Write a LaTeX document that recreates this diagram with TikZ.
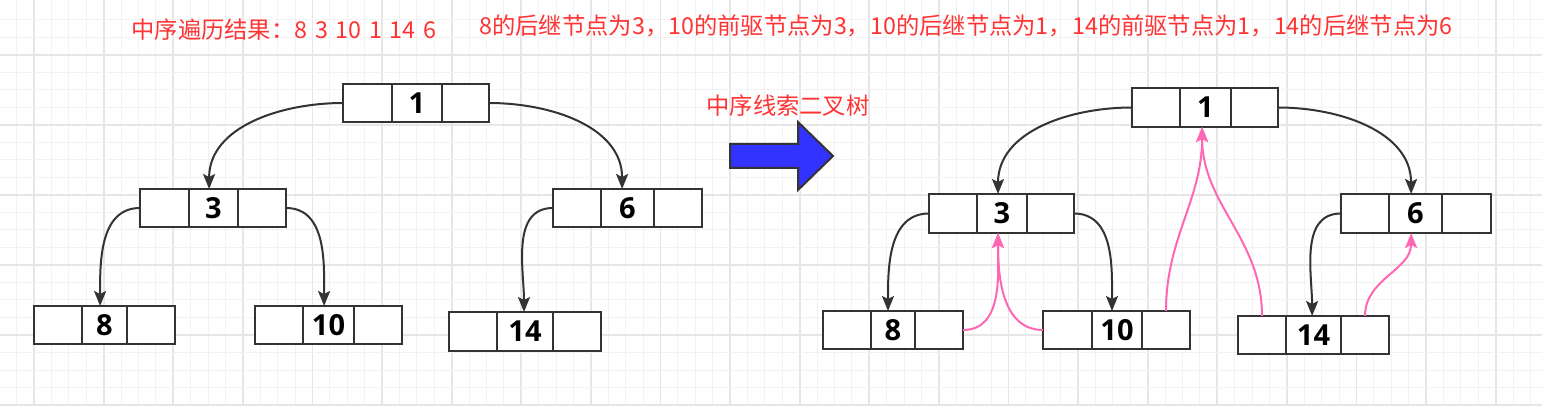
\documentclass[tikz,border=0pt]{standalone}
\usepackage{fontspec}
\newfontfamily\cjk{Noto Sans CJK SC}
\newfontfamily\numf{Open Sans}
\usetikzlibrary{arrows.meta}
\definecolor{lc}{HTML}{333333}
\definecolor{rd}{HTML}{FF3333}
\definecolor{pk}{HTML}{FF66B3}
\definecolor{bl}{HTML}{3333FF}
\definecolor{gthin}{HTML}{F2F2F2}
\definecolor{gthick}{HTML}{E6E6E6}
\newcommand\lblfont{\numf\bfseries\fontsize{14.5}{14.5}\selectfont}
\newcommand\gapsp{\hspace{0.33em}}
\newcommand\tn[8]{%
\node[cell, minimum width={(#3-#2)*0.5pt}, minimum height={(#7-#6)*0.5pt}] (#1l) at ({(#2+#3)/2},{(#6+#7)/2}) {};
\node[cell, minimum width={(#4-#3)*0.5pt}, minimum height={(#7-#6)*0.5pt}, font=\lblfont] (#1m) at ({(#3+#4)/2},{(#6+#7)/2}) {#8};
\node[cell, minimum width={(#5-#4)*0.5pt}, minimum height={(#7-#6)*0.5pt}] (#1r) at ({(#4+#5)/2},{(#6+#7)/2}) {};}
\tikzset{
  cell/.style={draw=lc, line width=1pt, inner sep=0pt, outer sep=0pt, fill=white},
  link/.style={draw=lc, line width=1pt, -{Stealth[length=7.5pt,width=6pt,inset=1.5pt]}},
  thread/.style={draw=pk, line width=1pt, -{Stealth[length=7.5pt,width=6pt,inset=1.5pt]}},
  redtxt/.style={text=rd, font=\cjk\fontsize{11.65}{13}\selectfont, inner sep=0pt, anchor=west}
}
\begin{document}
\begin{tikzpicture}[x=0.5pt,y=-0.5pt]
\useasboundingbox (0,0) rectangle (1542,406);
\fill[white] (0,0) rectangle (1542,406);
\foreach \i in {0,...,87}{
  \pgfmathtruncatemacro\m{mod(\i,4)}
  \ifnum\m=1
    \draw[gthick,line width=0.9pt] ({16.7+17.4*\i},0) -- ++(0,406);
  \else
    \draw[gthin,line width=0.5pt] ({16.7+17.4*\i},0) -- ++(0,406);
  \fi}
\foreach \i in {0,...,22}{
  \pgfmathtruncatemacro\m{mod(\i,4)}
  \ifnum\m=2
    \draw[gthick,line width=0.9pt] (0,{20+17.5*\i}) -- ++(1542,0);
  \else
    \draw[gthin,line width=0.5pt] (0,{20+17.5*\i}) -- ++(1542,0);
  \fi}

% texts
\node[redtxt] (t1) at (131,30) {中序遍历结果：8\gapsp3\gapsp10\gapsp1\gapsp14\gapsp6};
\node[redtxt] (t2) at (479,26) {8的后继节点为3，10的前驱节点为3，10的后继节点为1，14的前驱节点为1，14的后继节点为6};
\node[redtxt] (t3) at (706,106) {中序线索二叉树};

% big arrow
\draw[draw=lc, fill=bl, line width=1pt, line join=miter] (730,144) -- (798,144) -- (798,122) -- (833,156) -- (798,190) -- (798,168) -- (730,168) -- cycle;

% left tree
\tn{La}{343}{392}{442}{489}{84}{122}{1}
\tn{Lb}{140}{189}{238}{286}{189}{227}{3}
\tn{Lc}{34}{82}{127}{175}{306}{344}{8}
\tn{Ld}{255}{303}{354}{402}{306}{344}{10}
\tn{Le}{553}{601}{654}{702}{189}{227}{6}
\tn{Lf}{449}{497}{553}{601}{312}{351}{14}

\draw[link] (Lal.west) to[out=180,in=90] ([xshift=-2.2pt]Lbm.north);
\draw[link] (Lar.east) to[out=0,in=90] ([xshift=-2.7pt]Lem.north);
\draw[link] (Lbl.west) to[out=180,in=90] ([xshift=-2.2pt]Lcm.north);
\draw[link] (Lbr.east) to[out=0,in=90] ([xshift=-2.2pt]Ldm.north);
\draw[link] (Lel.west) to[out=180,in=90] ([xshift=-0.5pt]Lfm.north);

% right tree
\tn{Ra}{1132}{1180}{1231}{1278}{88}{127}{1}
\tn{Rb}{929}{977}{1027}{1074}{194}{233}{3}
\tn{Rc}{823}{871}{915}{963}{311}{349}{8}
\tn{Rd}{1043}{1092}{1142}{1190}{311}{349}{10}
\tn{Re}{1341}{1389}{1442}{1491}{194}{233}{6}
\tn{Rf}{1238}{1286}{1341}{1389}{316}{354}{14}

\draw[link] (Ral.west) to[out=180,in=90] ([xshift=-2pt]Rbm.north);
\draw[link] (Rar.east) to[out=0,in=90] ([xshift=-2.2pt]Rem.north);
\draw[link] (Rbl.west) to[out=180,in=90] ([xshift=-2.5pt]Rcm.north);
\draw[link] (Rbr.east) to[out=0,in=90] ([xshift=-2.5pt]Rdm.north);
\draw[link] (Rel.west) to[out=180,in=90] ([xshift=-0.7pt]Rfm.north);

% threads
\draw[thread] (Rcr.east) to[out=0,in=-90] ([xshift=-2pt]Rbm.south);
\draw[thread] (Rdl.west) to[out=180,in=-90] ([xshift=-2pt]Rbm.south);
\draw[thread] (Rdr.north) to[out=90,in=-90] ([xshift=-1.7pt]Ram.south);
\draw[thread] (Rfl.north) to[out=90,in=-90] ([xshift=-1.7pt]Ram.south);
\draw[thread] (Rfr.north) to[out=90,in=-90] ([xshift=-2.2pt]Rem.south);
\end{tikzpicture}
\end{document}
